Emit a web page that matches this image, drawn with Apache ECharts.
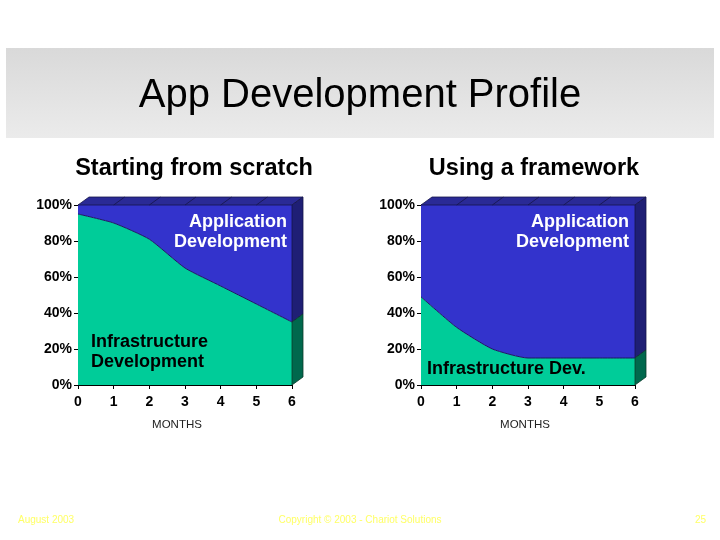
<!DOCTYPE html>
<html>
<head>
<meta charset="utf-8">
<script src="https://cdn.jsdelivr.net/npm/echarts@6/dist/echarts.min.js"></script>
<style>
html,body{margin:0;padding:0;background:#fff;}
#main{width:720px;height:540px;}
</style>
</head>
<body>
<div id="main"></div>
<script>
// ---- data ----
const months = ['0', '1', '2', '3', '4', '5', '6'];
const infraScratch = [95, 90, 81, 65, 55, 45, 35];
const appScratch = [5, 10, 19, 35, 45, 55, 65];
const infraFramework = [49, 32, 20, 15, 15, 15, 15];
const appFramework = [51, 68, 80, 85, 85, 85, 85];
const yTickValues = [0, 20, 40, 60, 80, 100];

const FONT = '"Liberation Sans", Arial, sans-serif';
const GREEN = '#00cc99';
const BLUE = '#3333cc';

const chart = echarts.init(document.getElementById('main'), null, {renderer: 'canvas'});

function xAxisCfg(idx, namePad) {
  return {
    type: 'category', gridIndex: idx, data: months, boundaryGap: false,
    axisLine: {show: true, lineStyle: {color: '#000', width: 1}},
    axisTick: {show: true, length: 4, alignWithLabel: true, lineStyle: {color: '#000'}},
    axisLabel: {color: '#000', fontFamily: FONT, fontWeight: 'bold', fontSize: 14, margin: 10},
    splitLine: {show: false},
    name: 'MONTHS', nameLocation: 'middle', nameGap: 34,
    nameTextStyle: {color: '#222', fontFamily: FONT, fontSize: 11.5, padding: namePad}
  };
}
function yAxisCfg(idx) {
  return {
    type: 'value', gridIndex: idx, min: yTickValues[0], max: yTickValues[yTickValues.length - 1], interval: 20,
    axisLine: {show: true, lineStyle: {color: '#000', width: 1}},
    axisTick: {show: true, length: 4, lineStyle: {color: '#000'}},
    axisLabel: {color: '#000', fontFamily: FONT, fontWeight: 'bold', fontSize: 14, margin: 6, formatter: '{value}%'},
    splitLine: {show: false}
  };
}
function areaSeries(idx, name, arr, color, stackName, withLine) {
  return {
    type: 'line', name: name, xAxisIndex: idx, yAxisIndex: idx, stack: stackName,
    data: arr, smooth: 0.18, symbol: 'none', z: 2,
    lineStyle: withLine ? {color: '#1b1b60', width: 1} : {width: 0},
    areaStyle: {color: color, opacity: 1}
  };
}
function box3d(idx, infraArr) {
  const last = months.length - 1;
  return {
    type: 'custom', xAxisIndex: idx, yAxisIndex: idx, clip: false, silent: true, z: 3,
    data: [[last, infraArr[last]]],
    renderItem: function (params, api) {
      const xEnd = api.value(0), yI = api.value(1);
      const dx = 11, dy = -8;
      const sh = p => [p[0] + dx, p[1] + dy];
      const p0 = api.coord([xEnd, 0]);
      const pI = api.coord([xEnd, yI]);
      const pT = api.coord([xEnd, 100]);
      const pL = api.coord([0, 100]);
      const children = [
        {type: 'polygon', shape: {points: [pL, pT, sh(pT), sh(pL)]},
         style: {fill: '#2a2a96', stroke: '#15154a', lineWidth: 0.8}},
        {type: 'polygon', shape: {points: [pI, pT, sh(pT), sh(pI)]},
         style: {fill: '#1f1f75', stroke: '#15154a', lineWidth: 0.8}},
        {type: 'polygon', shape: {points: [p0, pI, sh(pI), sh(p0)]},
         style: {fill: '#00684d', stroke: '#0a3a2a', lineWidth: 0.8}}
      ];
      for (let m = 1; m < last; m++) {
        const p = api.coord([m, 100]);
        children.push({type: 'line', shape: {x1: p[0], y1: p[1], x2: p[0] + dx, y2: p[1] + dy},
          style: {stroke: '#15154a', lineWidth: 0.8}});
      }
      return {type: 'group', children: children};
    }
  };
}

function txt(x, y, text, color, font, align, lh) {
  return {type: 'text', x: x, y: y, z: 100,
    style: {text: text, fill: color, font: font, align: align, verticalAlign: 'middle', lineHeight: lh}};
}
const LBL = 'bold 18px ' + FONT;
const SUB = 'bold 23.5px ' + FONT;

const option = {
  backgroundColor: '#ffffff',
  animation: false,
  grid: [
    {left: 78, top: 205, width: 214, height: 180, containLabel: false},
    {left: 421, top: 205, width: 214, height: 180, containLabel: false}
  ],
  xAxis: [xAxisCfg(0, [0, 16, 0, 0]), xAxisCfg(1, [0, 6, 0, 0])],
  yAxis: [yAxisCfg(0), yAxisCfg(1)],
  series: [
    areaSeries(0, 'Infrastructure Development', infraScratch, GREEN, 's0', true),
    areaSeries(0, 'Application Development', appScratch, BLUE, 's0', false),
    box3d(0, infraScratch),
    areaSeries(1, 'Infrastructure Development', infraFramework, GREEN, 's1', true),
    areaSeries(1, 'Application Development', appFramework, BLUE, 's1', false),
    box3d(1, infraFramework)
  ],
  graphic: [
    {type: 'rect', x: 6, y: 48, z: -10, shape: {width: 708, height: 90},
     style: {fill: new echarts.graphic.LinearGradient(0, 0, 0, 1, [
       {offset: 0, color: '#d9d9d9'}, {offset: 1, color: '#ebebeb'}])}},
    txt(360, 96, 'App Development Profile', '#000', '40px ' + FONT, 'center', 46),
    txt(194, 169, 'Starting from scratch', '#000', SUB, 'center', 28),
    txt(534, 169, 'Using a framework', '#000', SUB, 'center', 28),
    txt(287, 232.5, 'Application\nDevelopment', '#fff', LBL, 'right', 20),
    txt(91, 352, 'Infrastructure\nDevelopment', '#000', LBL, 'left', 20.5),
    txt(629, 232, 'Application\nDevelopment', '#fff', LBL, 'right', 20),
    txt(427, 369.5, 'Infrastructure Dev.', '#000', LBL, 'left', 20),
    txt(18, 520, 'August 2003', '#ffff66', '10px ' + FONT, 'left', 12),
    txt(360, 520, 'Copyright \u00a9 2003 - Chariot Solutions', '#ffff66', '10px ' + FONT, 'center', 12),
    txt(706, 520, '25', '#ffff66', '10px ' + FONT, 'right', 12)
  ]
};
chart.setOption(option);
</script>
</body>
</html>
